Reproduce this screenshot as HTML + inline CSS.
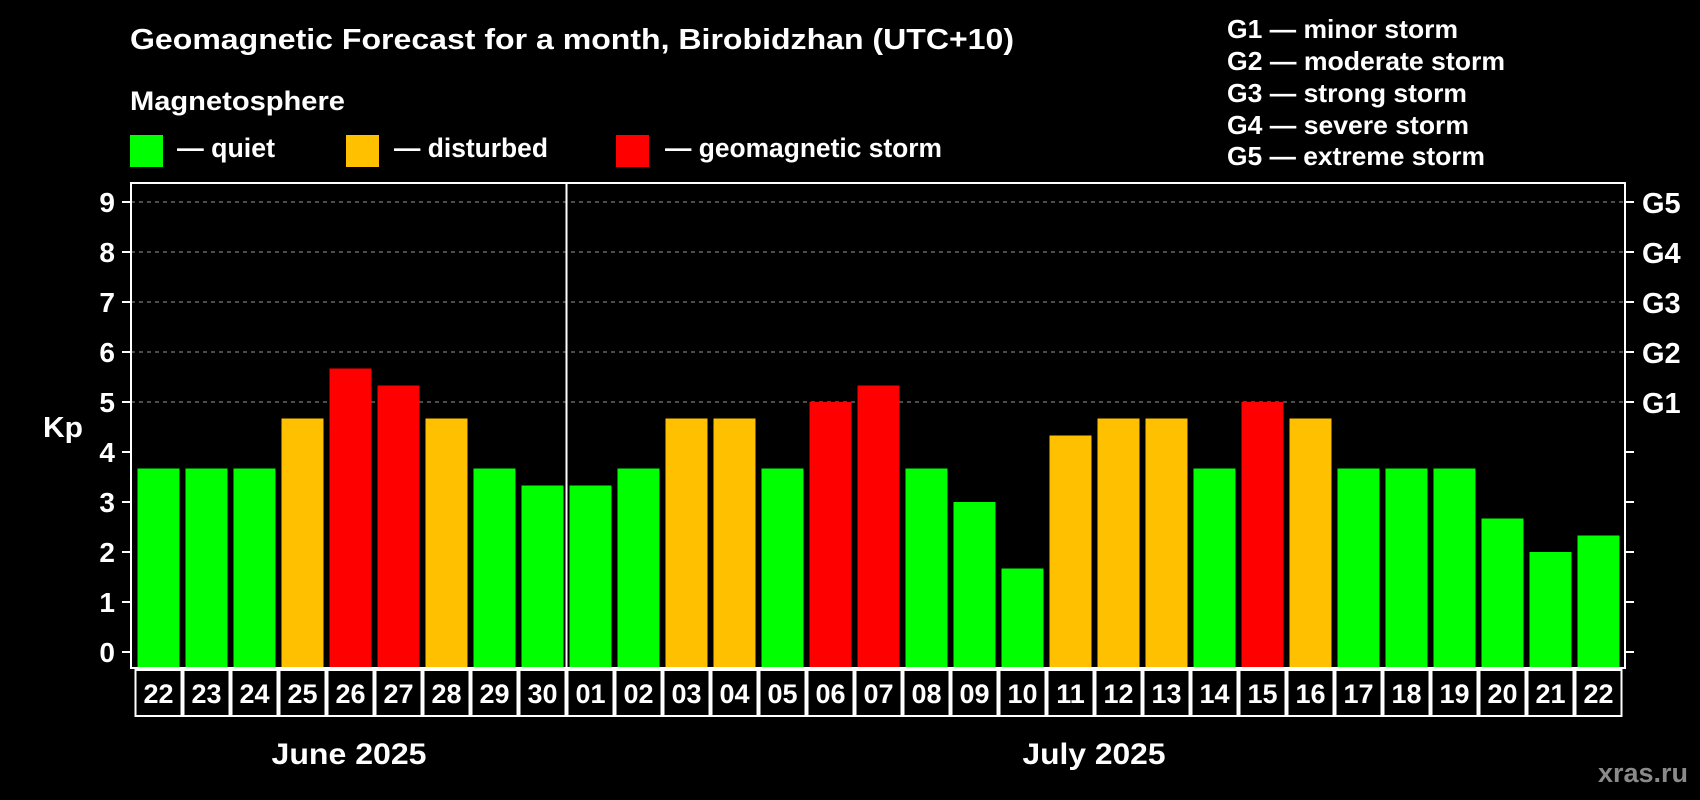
<!DOCTYPE html>
<html><head><meta charset="utf-8"><style>
html,body{margin:0;padding:0;background:#000;}
svg{display:block;font-family:"Liberation Sans",sans-serif;font-weight:bold;}
</style></head><body>
<svg id="chart" width="1700" height="800" viewBox="0 0 1700 800">
<rect width="1700" height="800" fill="#000"/>
<text x="130" y="49" font-size="29" fill="#fff" textLength="884" lengthAdjust="spacingAndGlyphs">Geomagnetic Forecast for a month, Birobidzhan (UTC+10)</text>
<text x="130" y="110" font-size="27" fill="#fff" textLength="215" lengthAdjust="spacingAndGlyphs">Magnetosphere</text>
<g><rect x="130" y="135" width="33" height="32" fill="#00ff00"/><text x="177" y="157" font-size="27" fill="#fff" textLength="98" lengthAdjust="spacingAndGlyphs">— quiet</text></g>
<g><rect x="346" y="135" width="33" height="32" fill="#ffc000"/><text x="394" y="157" font-size="27" fill="#fff" textLength="154" lengthAdjust="spacingAndGlyphs">— disturbed</text></g>
<g><rect x="616" y="135" width="33" height="32" fill="#ff0000"/><text x="665" y="157" font-size="27" fill="#fff" textLength="277" lengthAdjust="spacingAndGlyphs">— geomagnetic storm</text></g>
<g font-size="26" fill="#fff">
<text x="1227" y="38" textLength="231" lengthAdjust="spacingAndGlyphs">G1 — minor storm</text>
<text x="1227" y="70" textLength="278" lengthAdjust="spacingAndGlyphs">G2 — moderate storm</text>
<text x="1227" y="102" textLength="240" lengthAdjust="spacingAndGlyphs">G3 — strong storm</text>
<text x="1227" y="134" textLength="242" lengthAdjust="spacingAndGlyphs">G4 — severe storm</text>
<text x="1227" y="165" textLength="258" lengthAdjust="spacingAndGlyphs">G5 — extreme storm</text>
</g>
<text x="43" y="437" font-size="29" fill="#fff" textLength="40" lengthAdjust="spacingAndGlyphs">Kp</text>
<text x="349" y="764" font-size="30" fill="#fff" text-anchor="middle" textLength="155" lengthAdjust="spacingAndGlyphs">June 2025</text>
<text x="1094" y="764" font-size="30" fill="#fff" text-anchor="middle" textLength="143" lengthAdjust="spacingAndGlyphs">July 2025</text>
<text x="1643" y="782" font-size="27" fill="#8a8a8a" text-anchor="middle">xras.ru</text>
<g id="grid"></g><g id="bars"></g><g id="axes"></g><g id="labels"></g>
</svg>
<script>
const days = ["22","23","24","25","26","27","28","29","30","01","02","03","04","05","06","07","08","09","10","11","12","13","14","15","16","17","18","19","20","21","22"];
const kpValues = [3.67,3.67,3.67,4.67,5.67,5.33,4.67,3.67,3.33,3.33,3.67,4.67,4.67,3.67,5,5.33,3.67,3,1.67,4.33,4.67,4.67,3.67,5,4.67,3.67,3.67,3.67,2.67,2,2.33];
const levels = ["q","q","q","d","s","s","d","q","q","q","q","d","d","q","s","s","q","q","q","d","d","d","q","s","d","q","q","q","q","q","q"];
const yTicks = [0,1,2,3,4,5,6,7,8,9];
const gLabels = ["G1","G2","G3","G4","G5"];
const gLevels = [5,6,7,8,9];
const monthSplit = 9;

const NS="http://www.w3.org/2000/svg";
const colors={q:"#00ff00",d:"#ffc000",s:"#ff0000"};
const plotL=131,plotR=1625,plotT=183,plotB=668,slot0=134.5,pitch=48;
const y=v=>652-v*50;
const x=i=>slot0+i*pitch;
function mk(tag,attrs,parent){const e=document.createElementNS(NS,tag);for(const k in attrs)e.setAttribute(k,attrs[k]);parent.appendChild(e);return e;}
const grid=document.getElementById('grid'),bars=document.getElementById('bars'),axes=document.getElementById('axes'),labels=document.getElementById('labels');
gLevels.forEach((v,i)=>{
  const l=mk('line',{x1:plotL,x2:plotR,y1:y(v),y2:y(v),stroke:'#999','stroke-width':1,'stroke-dasharray':'4,4'},grid);
  
  
  const t=mk('text',{x:1642,y:y(v)+11,'font-size':29,fill:'#fff'},axes);
  t.textContent=gLabels[i];
  
  
});
kpValues.forEach((v,i)=>{
  const r=mk('rect',{x:x(i)+3,y:y(v),width:42,height:plotB-y(v),fill:colors[levels[i]]},bars);
  
  
  const b=mk('rect',{x:x(i)+1,y:670,width:pitch-2,height:46,fill:'none',stroke:'#fff','stroke-width':2},labels);
  
  
  const t=mk('text',{x:x(i)+pitch/2,y:703,'font-size':27,fill:'#fff','text-anchor':'middle'},labels);
  t.textContent=days[i];
  
  
});
const frame=mk('rect',{x:plotL,y:plotT,width:plotR-plotL,height:plotB-plotT,fill:'none',stroke:'#fff','stroke-width':2},axes);


const sep=mk('line',{x1:x(monthSplit),x2:x(monthSplit),y1:plotT,y2:plotB,stroke:'#fff','stroke-width':2},axes);


yTicks.forEach(v=>{
  mk('line',{x1:122,x2:plotL,y1:y(v),y2:y(v),stroke:'#fff','stroke-width':2},axes);
  mk('line',{x1:plotR,x2:1634,y1:y(v),y2:y(v),stroke:'#fff','stroke-width':2},axes);
  const t=mk('text',{x:115,y:y(v)+10,'font-size':28,fill:'#fff','text-anchor':'end'},axes);
  t.textContent=v;
  
  
});
</script>
</body></html>
